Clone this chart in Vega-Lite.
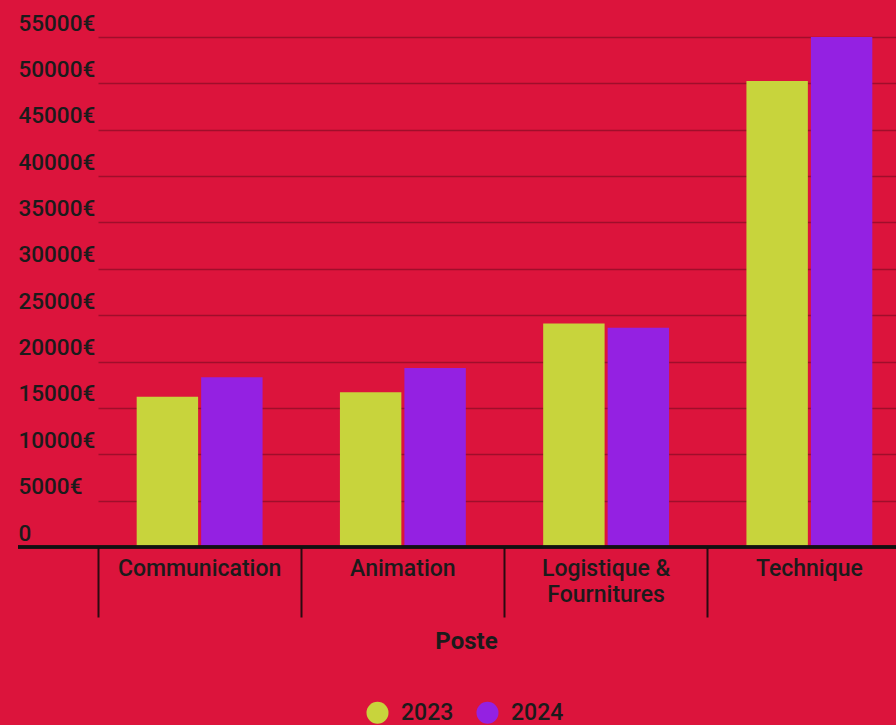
{
  "$schema": "https://vega.github.io/schema/vega-lite/v6.json",
  "width": 878,
  "height": 510,
  "autosize": "none",
  "padding": {"left": 18, "top": 37, "right": 0, "bottom": 178},
  "background": "#DC143C",
  "config": {"view": {"stroke": null}, "font": "Roboto"},
  "data": {
    "values": [
      {"poste": "Communication", "annee": "2023", "montant": 16200},
      {"poste": "Communication", "annee": "2024", "montant": 18300},
      {"poste": "Animation", "annee": "2023", "montant": 16700},
      {"poste": "Animation", "annee": "2024", "montant": 19300},
      {"poste": "Logistique & Fournitures", "annee": "2023", "montant": 24100},
      {"poste": "Logistique & Fournitures", "annee": "2024", "montant": 23650},
      {"poste": "Technique", "annee": "2023", "montant": 50250},
      {"poste": "Technique", "annee": "2024", "montant": 55000}
    ]
  },
  "layer": [
    {
      "mark": {"type": "bar"},
      "encoding": {
        "x": {
          "field": "poste",
          "type": "nominal",
          "sort": ["Communication", "Animation", "Logistique & Fournitures", "Technique"],
          "scale": {"range": [80, 893], "paddingInner": 0, "paddingOuter": 0},
          "axis": {
            "title": "Poste",
            "bandPosition": 0,
            "tickSize": 70,
            "tickWidth": 2,
            "tickColor": "#2b0a10",
            "domain": false,
            "grid": false,
            "labelPadding": -60,
            "labelAngle": 0,
            "labelAlign": "center",
            "labelFontSize": 23,
            "labelFontWeight": 500,
            "labelColor": "#1b1b1b",
            "labelBaseline": "top",
            "labelLineHeight": 26,
            "labelLimit": 0,
            "labelOverlap": false,
            "labelExpr": "datum.label == 'Logistique & Fournitures' ? ['Logistique &', 'Fournitures'] : datum.label",
            "titleFontSize": 24,
            "titleFontWeight": "bold",
            "titleColor": "#1b1b1b",
            "titleX": 448,
            "titleY": 94,
            "titleBaseline": "middle"
          }
        },
        "xOffset": {
          "field": "annee",
          "type": "nominal",
          "scale": {"paddingInner": 0.047, "paddingOuter": 0.6}
        },
        "y": {
          "field": "montant",
          "type": "quantitative",
          "scale": {"domain": [0, 55000], "nice": false},
          "axis": {
            "title": null,
            "values": [0, 5000, 10000, 15000, 20000, 25000, 30000, 35000, 40000, 45000, 50000, 55000],
            "labelExpr": "datum.value == 0 ? '0' : datum.value + '€'",
            "domain": false,
            "ticks": false,
            "tickSize": 0,
            "labelAlign": "left",
            "labelPadding": 0,
            "labelBaseline": "alphabetic",
            "labelOffset": -7,
            "labelFontSize": 22.5,
            "labelFontWeight": 500,
            "labelColor": "#1b1b1b",
            "labelOverlap": false,
            "grid": true,
            "gridColor": "#a00e2b",
            "gridWidth": 1.3
          }
        },
        "color": {
          "field": "annee",
          "type": "nominal",
          "scale": {"range": ["#C8D43C", "#9421E2"]},
          "legend": {
            "orient": "none",
            "legendX": 348,
            "legendY": 664,
            "direction": "horizontal",
            "title": null,
            "symbolType": "circle",
            "symbolSize": 484,
            "symbolOpacity": 1,
            "symbolStrokeWidth": 0,
            "labelFontSize": 23,
            "labelFontWeight": 500,
            "labelColor": "#1b1b1b",
            "labelOffset": 12,
            "columnPadding": 22
          }
        }
      }
    },
    {
      "mark": {"type": "rule", "color": "#111111", "strokeWidth": 2.5},
      "encoding": {"y": {"datum": 0}}
    }
  ]
}
